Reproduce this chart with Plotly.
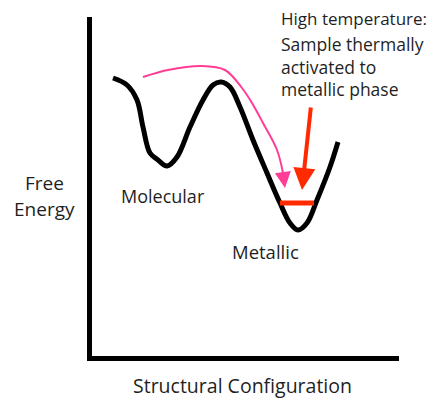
import plotly.graph_objects as go

# Energy landscape (x = structural configuration, y = free energy), arbitrary units
config = [23, 37, 47, 53, 60, 68, 77, 87, 100, 113, 123, 131, 140, 150, 163, 177, 190, 200, 208, 217, 227, 240, 248]
energy = [281, 274, 259, 232, 206, 199, 193, 202, 232, 259, 274, 277, 272, 252, 219, 186, 156, 136, 129, 136, 159, 192, 217]

# Pink transition path (molecular -> metallic)
path_x = [53, 78, 112, 135, 152, 162, 173, 187, 193, 195]
path_y = [282, 289, 293, 289, 271, 256, 236, 209, 186, 171]

# Red thermal-activation arrow and level bar
red_arrow_tail = (221, 253)
red_arrow_tip = (212, 169)
level_x = [190, 224]
level_y = [156, 156]

# Text labels: (x, y, text, anchor, size)
labels = [
    (-45, 176, "Free", "center", 19),
    (-45, 150, "Energy", "center", 19),
    (72.5, 163, "Molecular", "center", 18),
    (175.5, 108, "Metallic", "center", 18.5),
    (152, -26.5, "Structural Configuration", "center", 19.5),
    (189, 340.5, "High temperature:", "left", 17),
    (189, 315.5, "Sample thermally", "left", 17.5),
    (189, 292.5, "activated to", "left", 17.5),
    (189, 270, "metallic phase", "left", 17.5),
]

X_RANGE = [2, 309]
Y_RANGE = [3, 342]

FONT = "Open Sans"
TXT = "#1f1f1f"
PINK = "#FF3D96"
RED = "#FF2A00"


def px(x):
    return (x - X_RANGE[0]) / (X_RANGE[1] - X_RANGE[0])


def py(y):
    return (y - Y_RANGE[0]) / (Y_RANGE[1] - Y_RANGE[0])


fig = go.Figure()
fig.add_trace(go.Scatter(x=config, y=energy, mode="lines",
                         line=dict(color="black", width=5, shape="spline", smoothing=1.0),
                         hoverinfo="skip"))
fig.add_trace(go.Scatter(x=path_x[:-1], y=path_y[:-1], mode="lines",
                         line=dict(color=PINK, width=2, shape="spline", smoothing=1.0),
                         hoverinfo="skip"))
fig.add_trace(go.Scatter(x=level_x, y=level_y, mode="lines",
                         line=dict(color=RED, width=5), hoverinfo="skip"))

# pink arrowhead
fig.add_annotation(x=path_x[-1], y=path_y[-1], ax=path_x[-2], ay=path_y[-2],
                   xref="x", yref="y", axref="x", ayref="y", text="",
                   showarrow=True, arrowhead=2, arrowsize=1.6, arrowwidth=2, arrowcolor=PINK)
# red arrow
fig.add_annotation(x=red_arrow_tip[0], y=red_arrow_tip[1], ax=red_arrow_tail[0], ay=red_arrow_tail[1],
                   xref="x", yref="y", axref="x", ayref="y", text="",
                   showarrow=True, arrowhead=2, arrowsize=1.1, arrowwidth=4, arrowcolor=RED)

for (x, y, text, anchor, size) in labels:
    fig.add_annotation(x=px(x), y=py(y), text=text, xref="paper", yref="paper",
                       xanchor=anchor, yanchor="middle", showarrow=False,
                       font=dict(family=FONT, size=size, color=TXT))

fig.update_layout(
    width=439, height=400,
    margin=dict(l=84, r=48, t=9, b=52),
    paper_bgcolor="white", plot_bgcolor="white",
    showlegend=False,
    xaxis=dict(range=X_RANGE, showgrid=False, zeroline=False, showticklabels=False,
               ticks="", showline=True, linecolor="black", linewidth=5, fixedrange=True),
    yaxis=dict(range=Y_RANGE, showgrid=False, zeroline=False, showticklabels=False,
               ticks="", showline=True, linecolor="black", linewidth=5, fixedrange=True),
)
fig.write_html("out.html", config={"displayModeBar": False})
